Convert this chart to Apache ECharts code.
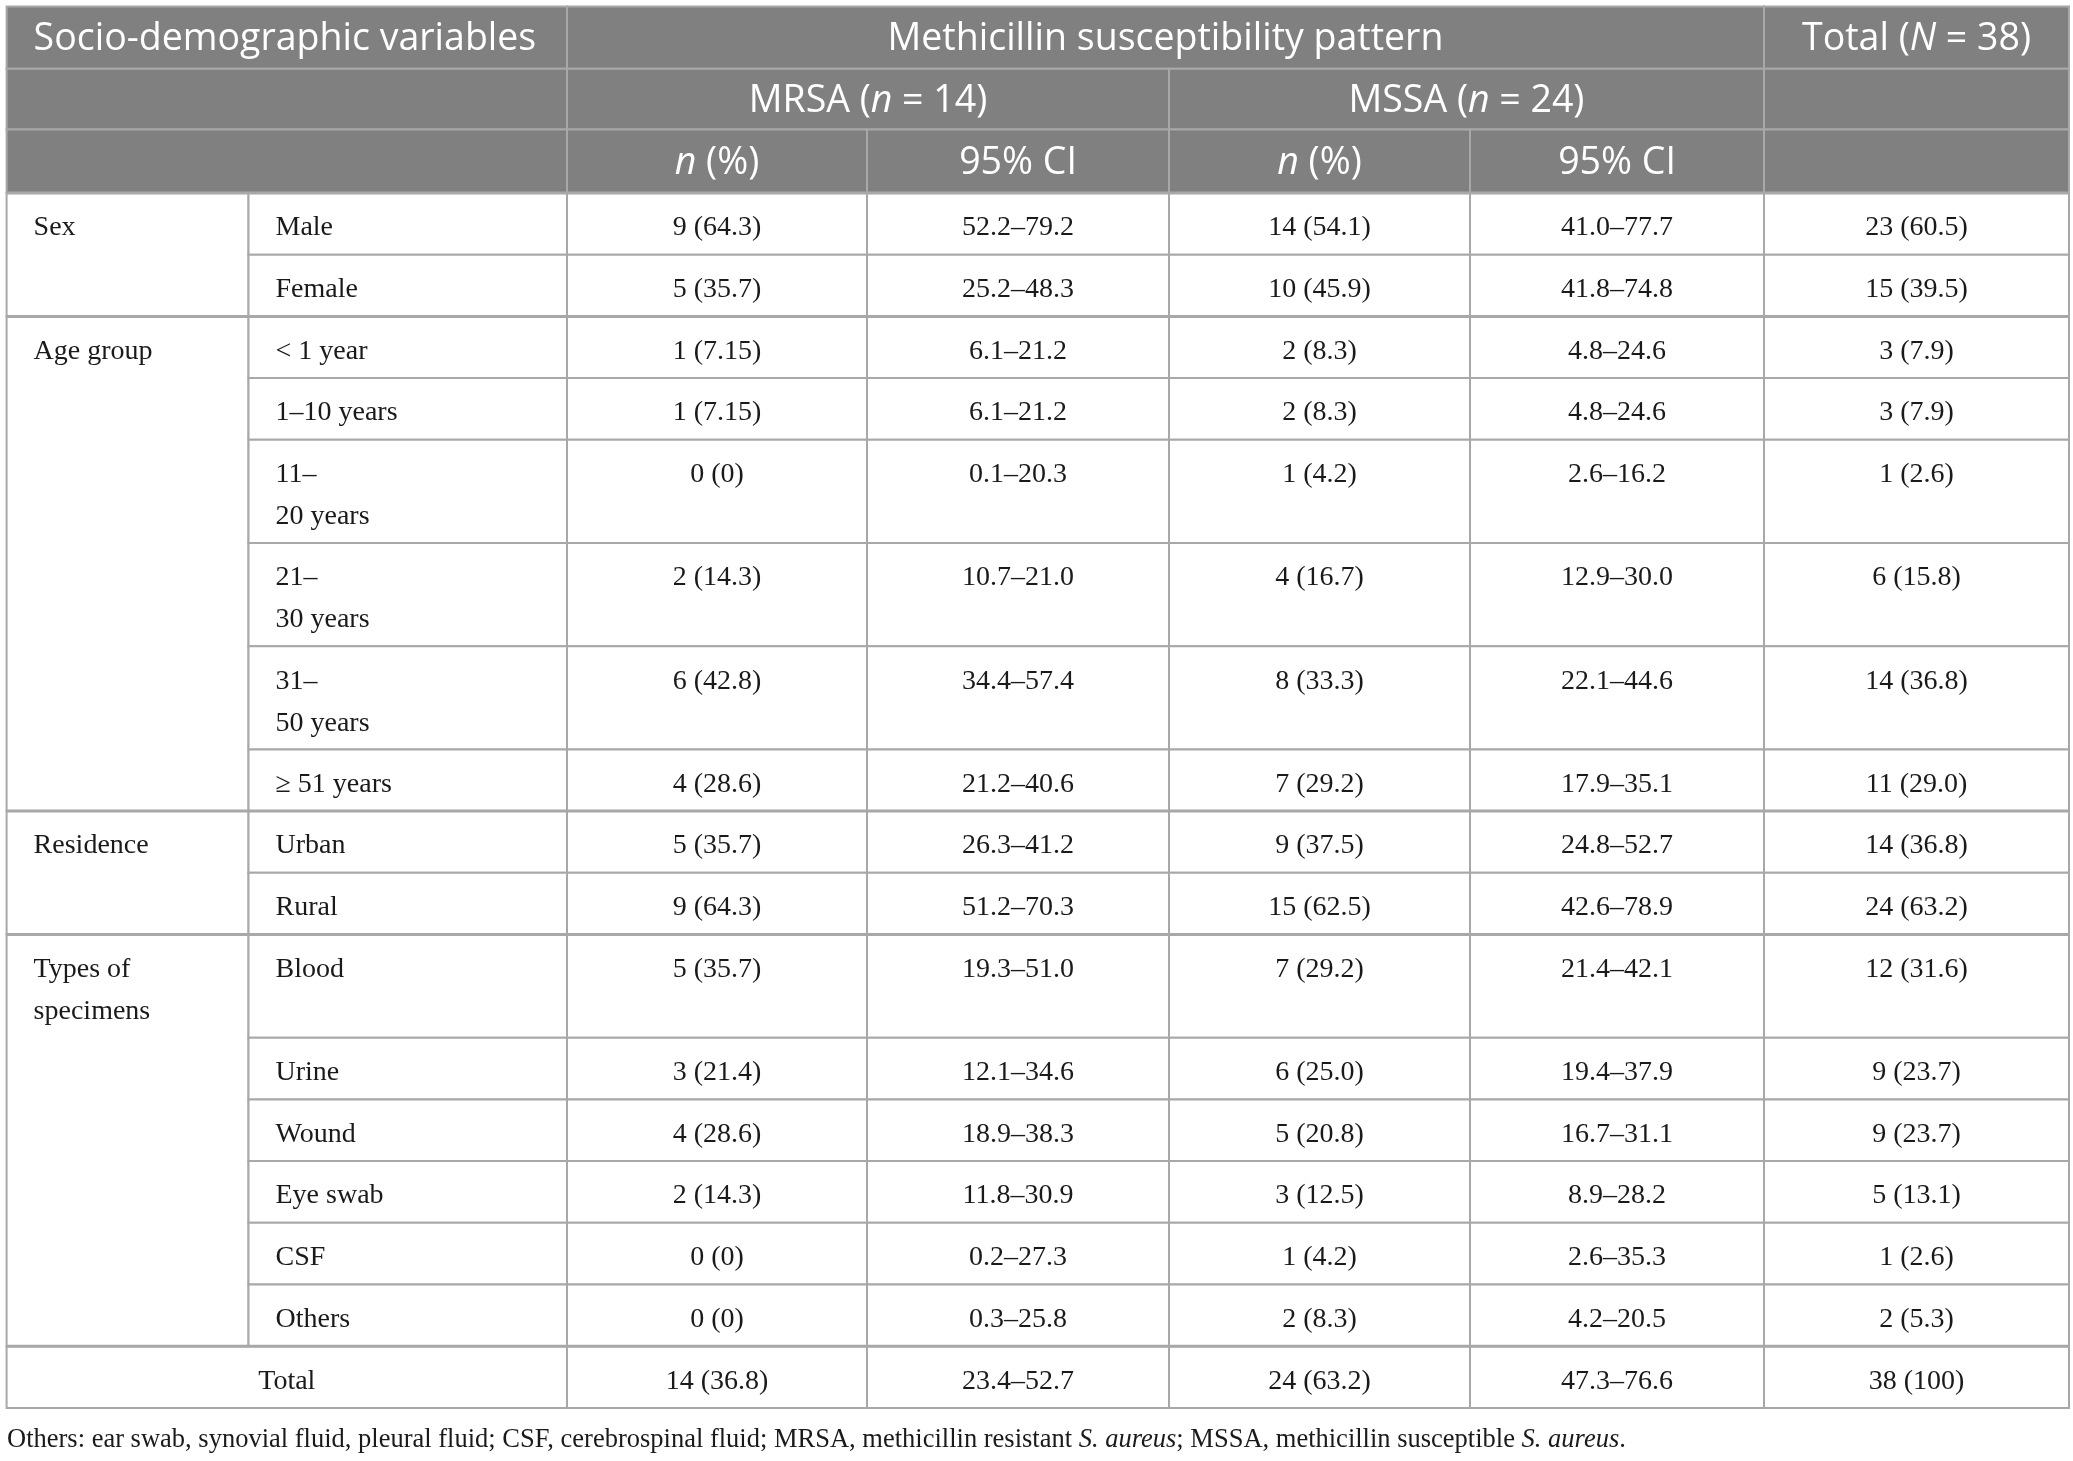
<!DOCTYPE html>
<html>
<head>
<meta charset="utf-8">
<script src="https://cdn.jsdelivr.net/npm/echarts@6/dist/echarts.min.js"></script>
<style>
html,body{margin:0;padding:0;background:#fff;}
#chart{width:2073px;height:1461px;}
</style>
</head>
<body>
<div id="chart"></div>
<script>
// ---------- data ----------
const headerTop = 'Socio-demographic variables';
const headerSpan = 'Methicillin susceptibility pattern';
const headerTotal = 'Total ({i|N} = 38)';
const headerGroups = ['MRSA ({i|n} = 14)', 'MSSA ({i|n} = 24)'];
const headerSub = ['{i|n} (%)', '95% CI', '{i|n} (%)', '95% CI'];

const groupNames = ['Sex', 'Age group', 'Residence', 'Types of\nspecimens'];
const groupSizes = [2, 6, 2, 6];
const categories = ['Male', 'Female', '< 1 year', '1–10 years', '11–\n20 years', '21–\n30 years',
  '31–\n50 years', '≥ 51 years', 'Urban', 'Rural', 'Blood', 'Urine', 'Wound', 'Eye swab', 'CSF', 'Others'];

const mrsaCount = [9, 5, 1, 1, 0, 2, 6, 4, 5, 9, 5, 3, 4, 2, 0, 0];
const mrsaPct = ['64.3', '35.7', '7.15', '7.15', '0', '14.3', '42.8', '28.6', '35.7', '64.3', '35.7', '21.4', '28.6', '14.3', '0', '0'];
const mrsaCI = ['52.2–79.2', '25.2–48.3', '6.1–21.2', '6.1–21.2', '0.1–20.3', '10.7–21.0', '34.4–57.4', '21.2–40.6',
  '26.3–41.2', '51.2–70.3', '19.3–51.0', '12.1–34.6', '18.9–38.3', '11.8–30.9', '0.2–27.3', '0.3–25.8'];
const mssaCount = [14, 10, 2, 2, 1, 4, 8, 7, 9, 15, 7, 6, 5, 3, 1, 2];
const mssaPct = ['54.1', '45.9', '8.3', '8.3', '4.2', '16.7', '33.3', '29.2', '37.5', '62.5', '29.2', '25.0', '20.8', '12.5', '4.2', '8.3'];
const mssaCI = ['41.0–77.7', '41.8–74.8', '4.8–24.6', '4.8–24.6', '2.6–16.2', '12.9–30.0', '22.1–44.6', '17.9–35.1',
  '24.8–52.7', '42.6–78.9', '21.4–42.1', '19.4–37.9', '16.7–31.1', '8.9–28.2', '2.6–35.3', '4.2–20.5'];
const totalCount = [23, 15, 3, 3, 1, 6, 14, 11, 14, 24, 12, 9, 9, 5, 1, 2];
const totalPct = ['60.5', '39.5', '7.9', '7.9', '2.6', '15.8', '36.8', '29.0', '36.8', '63.2', '31.6', '23.7', '23.7', '13.1', '2.6', '5.3'];

const totalRowLabel = 'Total';
const totalRow = ['14 (36.8)', '23.4–52.7', '24 (63.2)', '47.3–76.6', '38 (100)'];

const footnote = 'Others: ear swab, synovial fluid, pleural fluid; CSF, cerebrospinal fluid; MRSA, methicillin resistant {i|S. aureus}; MSSA, methicillin susceptible {i|S. aureus}.';

// ---------- layout (sizes / styles) ----------
const colWidths = [241.9, 318.5, 300, 302, 301, 294, 305];
const headerHeights = [62.1, 60.9, 63.4];
const singleRow = 61.7, doubleRow = 103.2;
const headFont = 'Open Sans';
const bodyFont = 'Liberation Serif';
const headSize = 37.5, bodySize = 28, footSize = 26.5;
const headBg = '#808080';
const lineColor = '#a8a8a8';
const textColor = '#1a1a1a';

// ---------- build geometry ----------
const xEdges = [0];
colWidths.forEach(w => xEdges.push(xEdges[xEdges.length - 1] + w));

const groupStart = [];
let acc = 0;
groupSizes.forEach(s => { groupStart.push(acc); acc += s; });
const rowLines = categories.map((c, i) => {
  let n = c.split('\n').length;
  const g = groupStart.indexOf(i);
  if (g >= 0) n = Math.max(n, groupNames[g].split('\n').length);
  return n;
});
const rowHeights = headerHeights.concat(rowLines.map(n => n > 1 ? doubleRow : singleRow), [singleRow]);
const yEdges = [0];
rowHeights.forEach(h => yEdges.push(yEdges[yEdges.length - 1] + h));

const cells = [];
function addCell(c0, c1, r0, r1, text, opt) {
  cells.push(Object.assign({c0, c1, r0, r1, text}, opt || {}));
}
// header
addCell(0, 2, 0, 1, headerTop, {head: true, align: 'left'});
addCell(2, 6, 0, 1, headerSpan, {head: true});
addCell(6, 7, 0, 1, headerTotal, {head: true});
addCell(0, 2, 1, 2, '', {head: true});
addCell(2, 4, 1, 2, headerGroups[0], {head: true});
addCell(4, 6, 1, 2, headerGroups[1], {head: true});
addCell(6, 7, 1, 2, '', {head: true});
addCell(0, 2, 2, 3, '', {head: true});
headerSub.forEach((t, k) => addCell(2 + k, 3 + k, 2, 3, t, {head: true}));
addCell(6, 7, 2, 3, '', {head: true});
// body
groupNames.forEach((g, gi) => {
  const r0 = 3 + groupStart[gi];
  addCell(0, 1, r0, r0 + groupSizes[gi], g, {align: 'left'});
});
categories.forEach((c, i) => {
  const r = 3 + i;
  addCell(1, 2, r, r + 1, c, {align: 'left'});
  addCell(2, 3, r, r + 1, mrsaCount[i] + ' (' + mrsaPct[i] + ')');
  addCell(3, 4, r, r + 1, mrsaCI[i]);
  addCell(4, 5, r, r + 1, mssaCount[i] + ' (' + mssaPct[i] + ')');
  addCell(5, 6, r, r + 1, mssaCI[i]);
  addCell(6, 7, r, r + 1, totalCount[i] + ' (' + totalPct[i] + ')');
});
const tr = 3 + categories.length;
addCell(0, 2, tr, tr + 1, totalRowLabel);
totalRow.forEach((t, k) => addCell(2 + k, 3 + k, tr, tr + 1, t));

const boundaryRows = [3];
groupStart.forEach((s, gi) => boundaryRows.push(3 + s + groupSizes[gi]));

const W = xEdges[xEdges.length - 1];
const H = yEdges[yEdges.length - 1];

const cellData = cells.map((c, i) => [xEdges[c.c0], xEdges[c.c1], yEdges[c.r0], yEdges[c.r1], i]);
const lineData = boundaryRows.map(r => [0, W, yEdges[r], yEdges[r]]);

const chart = echarts.init(document.getElementById('chart'), null, {renderer: 'canvas'});

chart.setOption({
  animation: false,
  backgroundColor: '#fff',
  title: {
    text: footnote,
    left: 7,
    top: 1427,
    padding: 0,
    textStyle: {
      fontFamily: bodyFont, fontSize: footSize, fontWeight: 'normal', color: textColor,
      rich: {i: {fontFamily: bodyFont, fontSize: footSize, fontStyle: 'italic', color: textColor}}
    }
  },
  grid: {left: 6.6, top: 6.6, width: W, height: H},
  xAxis: {type: 'value', min: 0, max: W, show: false},
  yAxis: {type: 'value', min: 0, max: H, inverse: true, show: false},
  series: [
    {
      type: 'custom',
      data: cellData,
      encode: {x: [0, 1], y: [2, 3]},
      clip: false,
      renderItem: function (params, api) {
        const c = cells[api.value(4)];
        const p0 = api.coord([api.value(0), api.value(2)]);
        const p1 = api.coord([api.value(1), api.value(3)]);
        const x = p0[0], y = p0[1], w = p1[0] - p0[0], h = p1[1] - p0[1];
        const children = [{
          type: 'rect',
          shape: {x, y, width: w, height: h},
          style: {fill: c.head ? headBg : '#fff', stroke: lineColor, lineWidth: 2}
        }];
        if (c.text) {
          const left = c.align === 'left';
          const tx = left ? x + 27 : x + w / 2;
          if (c.head) {
            children.push({
              type: 'text',
              style: {
                text: c.text, x: tx, y: y + h / 2 + 2, align: left ? 'left' : 'center', verticalAlign: 'middle',
                fontFamily: headFont, fontSize: headSize, fill: '#fff',
                rich: {i: {fontFamily: headFont, fontSize: headSize, fontStyle: 'italic', fill: '#fff'}}
              },
              z2: 10
            });
          } else {
            children.push({
              type: 'text',
              style: {
                text: c.text, x: tx, y: y + 14, align: left ? 'left' : 'center', verticalAlign: 'top',
                fontFamily: bodyFont, fontSize: bodySize, lineHeight: 42, fill: textColor
              },
              z2: 10
            });
          }
        }
        return {type: 'group', children};
      },
      z: 1
    },
    {
      type: 'custom',
      data: lineData,
      encode: {x: [0, 1], y: [2, 3]},
      clip: false,
      renderItem: function (params, api) {
        const p0 = api.coord([api.value(0), api.value(2)]);
        const p1 = api.coord([api.value(1), api.value(3)]);
        return {
          type: 'line',
          shape: {x1: p0[0], y1: p0[1], x2: p1[0], y2: p1[1]},
          style: {stroke: lineColor, lineWidth: 3}
        };
      },
      z: 2
    }
  ]
});
</script>
</body>
</html>
